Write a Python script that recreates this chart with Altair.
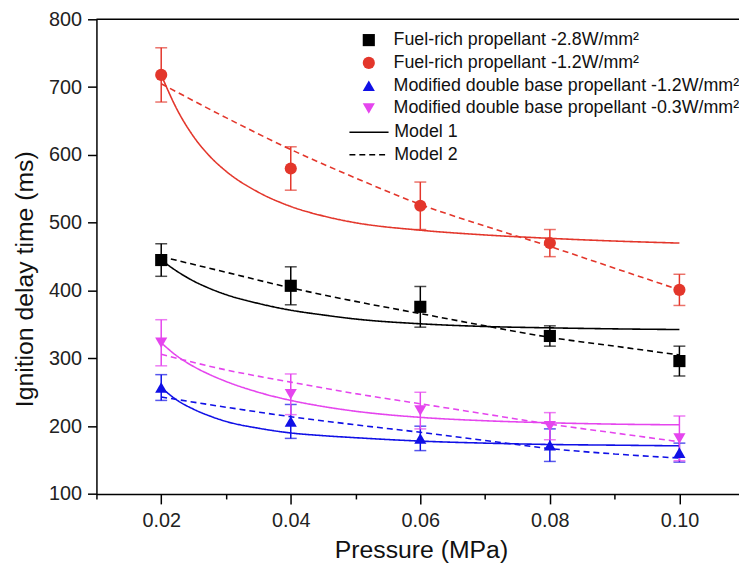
import altair as alt
import pandas as pd

# ---------------- data ----------------
series_names = [
    "Fuel-rich propellant -2.8W/mm²",
    "Fuel-rich propellant -1.2W/mm²",
    "Modified double base propellant -1.2W/mm²",
    "Modified double base propellant -0.3W/mm²",
]
series_colors = ["#000000", "#e3362b", "#1010e6", "#e545ee"]
series_shapes = ["square", "circle", "triangle-up", "triangle-down"]

pressure = [0.02, 0.04, 0.06, 0.08, 0.10]
fr28_mean = [445, 407, 376, 333, 296]
fr28_err = [24, 28, 30, 15, 22]
fr12_mean = [718, 580, 525, 470, 401]
fr12_err = [40, 32, 35, 20, 23]
mdb12_mean = [257, 207, 182, 172, 161]
mdb12_err = [19, 25, 18, 24, 14]
mdb03_mean = [323, 247, 223, 200, 182]
mdb03_err = [34, 30, 27, 20, 33]

model1_x = [0.02, 0.0225, 0.025, 0.0275, 0.03, 0.035, 0.04, 0.045, 0.05, 0.06, 0.07, 0.08, 0.09, 0.10]
m1_fr28 = [445, 428, 414, 403, 394, 381, 371, 364, 358, 351, 347, 345, 343.5, 342.5]
m1_fr12 = [718, 666, 627, 598, 576, 545, 524, 510, 500, 489, 482, 477, 473, 470]
m1_mdb12 = [257, 238, 225, 215, 207, 197, 190, 186, 183, 178, 175, 173, 172, 171]
m1_mdb03 = [323, 303, 288, 276, 266, 250, 238, 229, 222, 213, 208, 205, 203, 202]

model2_x = [0.02, 0.03, 0.04, 0.05, 0.06, 0.07, 0.08, 0.09, 0.10]
m2_fr28 = [450, 427, 404, 384, 366, 348, 331, 318, 305]
m2_fr12 = [705, 655, 608, 566, 527, 495, 465, 433, 401]
m2_mdb12 = [243, 228, 214, 202, 191, 179, 167, 159, 153]
m2_mdb03 = [306, 283, 265, 248, 233, 218, 203, 190, 177]

model_names = ["Model 1", "Model 2"]

x_ticks = [0.01, 0.02, 0.03, 0.04, 0.05, 0.06, 0.07, 0.08, 0.09, 0.10]
y_ticks = [100, 150, 200, 250, 300, 350, 400, 450, 500, 550, 600, 650, 700, 750, 800]

# ---------------- tables ----------------
means = [fr28_mean, fr12_mean, mdb12_mean, mdb03_mean]
errs = [fr28_err, fr12_err, mdb12_err, mdb03_err]
pts = []
for s, m, e in zip(series_names, means, errs):
    for p, v, d in zip(pressure, m, e):
        pts.append({"series": s, "p": p, "v": v, "lo": v - d, "hi": v + d})
pts_df = pd.DataFrame(pts)

lines = []
for s, ys in zip(series_names, [m1_fr28, m1_fr12, m1_mdb12, m1_mdb03]):
    for p, v in zip(model1_x, ys):
        lines.append({"series": s, "model": "Model 1", "p": p, "v": v})
for s, ys in zip(series_names, [m2_fr28, m2_fr12, m2_mdb12, m2_mdb03]):
    for p, v in zip(model2_x, ys):
        lines.append({"series": s, "model": "Model 2", "p": p, "v": v})
lines_df = pd.DataFrame(lines)

# ---------------- layout ----------------
W = 648.8
H = 479.3
FONT = "Liberation Sans"

x_scale = alt.Scale(domain=[0.01, 0.1092], nice=False, zero=False)
y_scale = alt.Scale(domain=[100, 800], nice=False, zero=False)
color_scale = alt.Scale(domain=series_names, range=series_colors)
shape_scale = alt.Scale(domain=series_names, range=series_shapes)

x_axis = alt.Axis(
    title="Pressure (MPa)",
    values=x_ticks,
    labelExpr="round(datum.value*100) % 2 == 0 ? format(datum.value, '.2f') : ''",
    tickSize={"condition": {"test": "round(datum.value*100) % 2 == 0", "value": 10}, "value": 5},
    labelPadding=7,
    labelFontSize=20,
    titleFontSize=25,
    titleX=327.7,
    titleY=56,
    titleBaseline="middle",
    grid=False,
)
y_axis = alt.Axis(
    title="Ignition delay time (ms)",
    values=y_ticks,
    labelExpr="datum.value % 100 == 0 ? datum.value : ''",
    tickSize={"condition": {"test": "datum.value % 100 == 0", "value": 9}, "value": 5},
    labelPadding=6,
    labelFontSize=20,
    titleFontSize=25,
    titleAngle=270,
    titleX=-73,
    titleY=262,
    titleBaseline="middle",
    titleAlign="center",
    grid=False,
)

legend_series = alt.Legend(
    title=None,
    orient="none",
    legendX=266,
    legendY=12,
    labelFontSize=18,
    labelFont=FONT,
    labelColor="#111111",
    symbolSize=150,
    symbolStrokeWidth=0,
    labelOffset=16,
    rowPadding=5,
    padding=0,
    labelLimit=500,
)
legend_model = alt.Legend(
    title=None,
    orient="none",
    legendX=254.7,
    legendY=105,
    labelFontSize=18,
    labelFont=FONT,
    labelColor="#111111",
    symbolType="stroke",
    symbolSize=1560,
    symbolStrokeColor="black",
    symbolStrokeWidth=1.5,
    clipHeight=18,
    labelOffset=5,
    rowPadding=4.7,
    padding=0,
)

X = alt.X("p:Q", scale=x_scale, axis=x_axis)
Y = alt.Y("v:Q", scale=y_scale, axis=y_axis)

layers = []
# model curves, one layer per series with a fixed colour
for s, c in zip(series_names, series_colors):
    layers.append(
        alt.Chart(lines_df)
        .transform_filter(alt.datum.series == s)
        .mark_line(strokeWidth=1.6, interpolate="monotone", color=c)
        .encode(
            x=X,
            y=Y,
            strokeDash=alt.StrokeDash(
                "model:N",
                scale=alt.Scale(domain=model_names, range=[[1, 0], [6, 4]]),
                legend=legend_model,
            ),
        )
    )

# error bars
for s, c in zip(series_names, series_colors):
    sub = alt.Chart(pts_df).transform_filter(alt.datum.series == s)
    layers.append(
        sub.mark_rule(strokeWidth=1.5, color=c).encode(
            x=alt.X("p:Q", scale=x_scale),
            y=alt.Y("lo:Q", scale=y_scale),
            y2="hi:Q",
        )
    )
    for fld in ["hi", "lo"]:
        layers.append(
            sub.mark_tick(orient="horizontal", size=12, thickness=1.5, color=c).encode(
                x=alt.X("p:Q", scale=x_scale),
                y=alt.Y(f"{fld}:Q", scale=y_scale),
            )
        )

points = alt.Chart(pts_df).mark_point(filled=True, size=150, opacity=1).encode(
    x=alt.X("p:Q", scale=x_scale),
    y=alt.Y("v:Q", scale=y_scale),
    color=alt.Color("series:N", scale=color_scale, legend=legend_series),
    shape=alt.Shape("series:N", scale=shape_scale, legend=legend_series),
)
layers.append(points)

top_frame = alt.Chart(pd.DataFrame({"a": [0]})).mark_rule(color="black", strokeWidth=1.5).encode(
    x=alt.value(0), x2=alt.value(W), y=alt.value(0)
)
layers.append(top_frame)

chart = (
    alt.layer(*layers)
    .properties(
        width=W,
        height=H,
        autosize=alt.AutoSizeParams(type="none"),
        padding={"left": 89.3, "top": 8.7, "right": 0, "bottom": 70},
        background="white",
    )
    .configure_view(stroke=None)
    .configure_axis(
        labelFont=FONT,
        titleFont=FONT,
        labelColor="#222222",
        titleColor="#111111",
        titleFontWeight="normal",
        domainColor="black",
        domainWidth=1.5,
        tickColor="black",
        tickWidth=1.5,
    )
)

chart.save("out.html", embed_options={"renderer": "svg", "actions": False})
